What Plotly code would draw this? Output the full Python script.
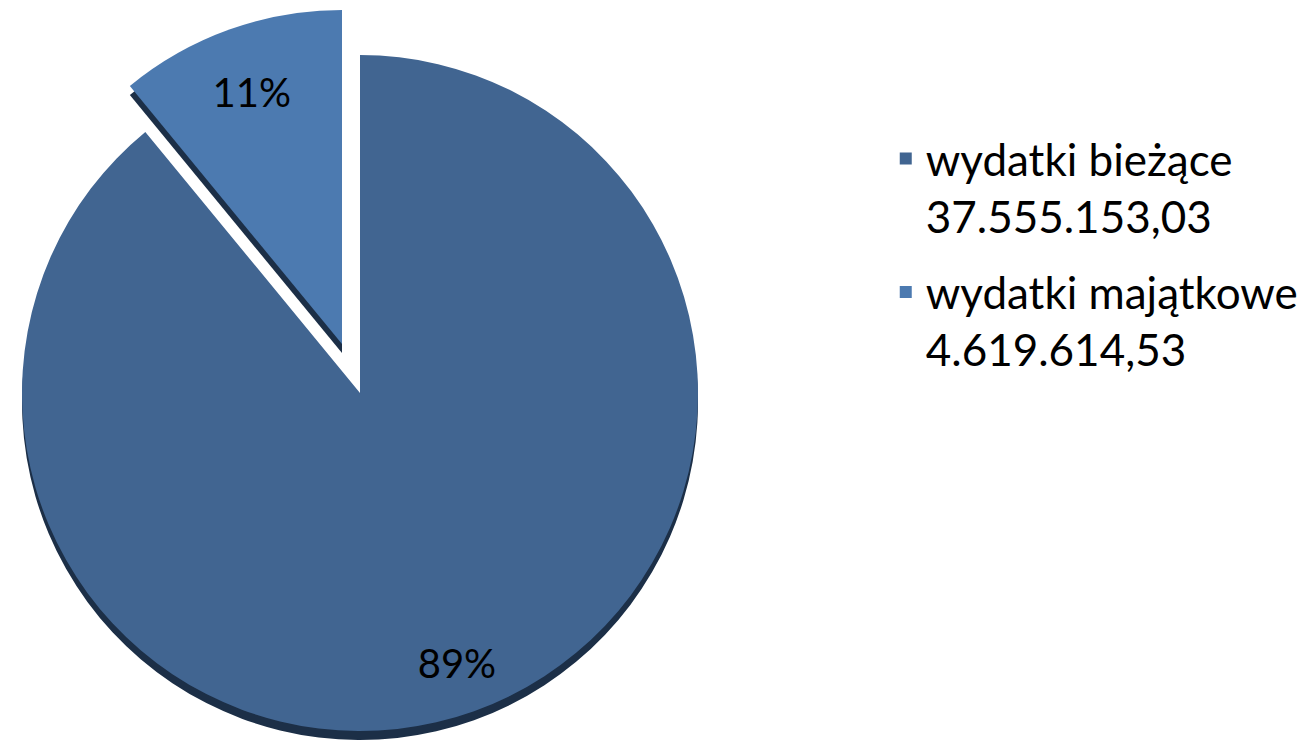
import plotly.graph_objects as go

labels = ["wydatki bieżące<br>37.555.153,03", "wydatki majątkowe<br>4.619.614,53"]
values = [37555153.03, 4619614.53]
colors = ["#416591", "#4C7AB0"]
shadow = "#1C2F47"
clear = "rgba(0,0,0,0)"

W, H = 1314, 745
PAGE = 8                 # default body margin of the html page
RA, RB = 338, 334
cxA, cyA = 360 - PAGE, 393 - PAGE    # main slice centre (px in figure)
cxB, cyB = 342 - PAGE, 344 - PAGE    # exploded slice centre (px in figure)
depth = 9

def dom(cx, cy, R, dy=0):
    cy = cy + dy
    return dict(x=[max(0, (cx - R) / W), min(1, (cx + R) / W)],
                y=[max(0, (H - (cy + R)) / H), min(1, (H - (cy - R)) / H)])

font = dict(family="Lato", size=40, color="black")
common = dict(labels=labels, values=values, sort=False, direction="clockwise",
              rotation=0, hoverinfo="skip", textposition="inside",
              insidetextorientation="horizontal", textfont=font,
              marker_line_width=0)

fig = go.Figure()
# legend-only traces (sub-pixel), one per group so that a gap separates them
for i in range(2):
    fig.add_trace(go.Pie(labels=[labels[i]], values=[values[i]], sort=False,
                         marker_colors=[colors[i]], textinfo="none", hoverinfo="skip",
                         marker_line_width=0, legendgroup=f"g{i}",
                         domain=dict(x=[0.9999, 1], y=[0, 0.0001]), showlegend=True))
# depth of main slice
fig.add_trace(go.Pie(**common, marker_colors=[shadow, clear], textinfo="none",
                     domain=dom(cxA, cyA, RA, depth), showlegend=False))
# main slice
fig.add_trace(go.Pie(**common, marker_colors=[colors[0], clear], textinfo="none",
                     domain=dom(cxA, cyA, RA), showlegend=False))
# label of main slice (transparent ring places the text near the rim)
fig.add_trace(go.Pie(**common, marker_colors=[clear, clear], hole=0.7,
                     texttemplate=["%{percent:.0%}", ""],
                     domain=dom(cxA, cyA, RA), showlegend=False))
# depth of exploded slice
fig.add_trace(go.Pie(**common, marker_colors=[clear, shadow], textinfo="none",
                     domain=dom(cxB, cyB, RB, depth), showlegend=False))
# exploded slice
fig.add_trace(go.Pie(**common, marker_colors=[clear, colors[1]], textinfo="none",
                     domain=dom(cxB, cyB, RB), showlegend=False))
# label of exploded slice
fig.add_trace(go.Pie(**common, marker_colors=[clear, clear], hole=0.6,
                     texttemplate=["", "%{percent:.0%}"],
                     domain=dom(cxB, cyB, RB), showlegend=False))

fig.update_layout(
    width=W, height=H, autosize=False,
    margin=dict(l=0, r=0, t=0, b=0),
    paper_bgcolor="white", plot_bgcolor="white",
    legend=dict(x=0.668, y=0.845, xanchor="left", yanchor="top", valign="top",
                traceorder="grouped", tracegroupgap=16,
                font=dict(family="Lato", size=44, color="black"),
                bgcolor="rgba(0,0,0,0)", itemclick=False, itemdoubleclick=False),
)
fig.write_html("out.html")
